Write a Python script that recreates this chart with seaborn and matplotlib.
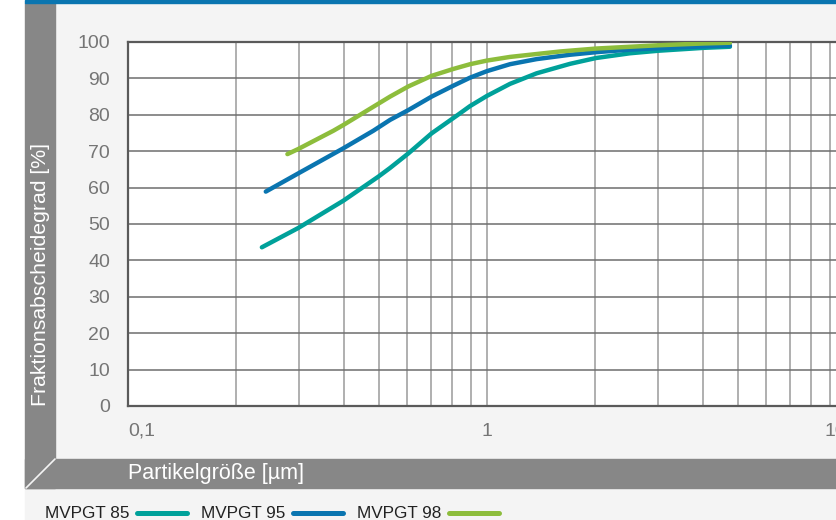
import numpy as np
import pandas as pd
import matplotlib
matplotlib.use("Agg")
import matplotlib.pyplot as plt
from matplotlib.patches import Rectangle
from matplotlib.lines import Line2D
from matplotlib.ticker import FixedLocator, NullFormatter
import seaborn as sns

# Fractional separation efficiency [%] vs. particle size [µm]
x_85 = [0.236, 0.298, 0.398, 0.498, 0.537, 0.604, 0.701, 0.83, 0.897, 1.0,
        1.159, 1.375, 1.703, 2.012, 2.5, 3.0, 4.02, 4.75]
y_85 = [43.6, 48.9, 56.4, 63.0, 65.4, 69.4, 74.9, 80.0, 82.4, 85.2,
        88.5, 91.4, 94.0, 95.6, 96.9, 97.6, 98.4, 98.7]

x_95 = [0.242, 0.298, 0.398, 0.482, 0.537, 0.604, 0.701, 0.806, 0.897, 1.0,
        1.159, 1.375, 1.703, 2.012, 2.5, 3.0, 4.02, 4.75]
y_95 = [58.9, 63.9, 70.8, 75.6, 78.6, 81.3, 85.0, 88.0, 90.2, 92.0,
        93.9, 95.3, 96.5, 97.2, 97.9, 98.3, 98.8, 99.0]

x_98 = [0.278, 0.298, 0.373, 0.398, 0.503, 0.537, 0.604, 0.701, 0.806, 0.897,
        1.0, 1.159, 1.375, 1.6, 2.012, 3.0, 4.02, 4.75]
y_98 = [69.2, 70.6, 75.6, 77.2, 83.3, 85.0, 87.8, 90.7, 92.6, 93.9,
        94.9, 95.9, 96.7, 97.4, 98.2, 99.1, 99.6, 99.8]

series_names = ["MVPGT 85", "MVPGT 95", "MVPGT 98"]
series_colors = ["#00a19a", "#0a75b0", "#8dbd3c"]

y_ticks = [0, 10, 20, 30, 40, 50, 60, 70, 80, 90, 100]
x_major = [0.1, 1, 10]
x_major_labels = ["0,1", "1", "10"]
x_label = "Partikelgröße [µm]"
y_label = "Fraktionsabscheidegrad [%]"

df = pd.concat([
    pd.DataFrame({"x": x_85, "y": y_85, "series": series_names[0]}),
    pd.DataFrame({"x": x_95, "y": y_95, "series": series_names[1]}),
    pd.DataFrame({"x": x_98, "y": y_98, "series": series_names[2]}),
], ignore_index=True)

sns.set_theme(style="white")
plt.rcParams["font.family"] = ["Liberation Sans", "DejaVu Sans"]

W, H = 837, 520
fig = plt.figure(figsize=(W / 100, H / 100), dpi=100)
fig.patch.set_facecolor("white")

def fx(px):
    return px / W

def fy(py):
    return 1 - py / H

# background panels
panel_gray = "#f4f4f4"
band_gray = "#878787"
for (x0, y1, w, h, c) in [
    (25, 520, W - 25, 32, panel_gray),
    (55, 459, W - 55, 456, panel_gray),
    (25, 488, 30, 485, band_gray),
    (25, 488, W - 25, 29, band_gray),
    (25, 3, W - 25, 3, "#0a75b0"),
]:
    fig.patches.append(Rectangle((fx(x0), fy(y1)), w / W, h / H,
                                 transform=fig.transFigure, color=c, zorder=-2))
fig.lines.append(Line2D([fx(55), fx(26)], [fy(459), fy(488)], transform=fig.transFigure,
                        color=panel_gray, lw=1.2, zorder=-1))

# plot area (extends slightly past the right edge of the canvas)
left, right, top, bottom = 128, 846, 42, 406
ax = fig.add_axes([fx(left), fy(bottom), (right - left) / W, (bottom - top) / H])
ax.set_zorder(2)
ax.set_facecolor("white")

sns.lineplot(data=df, x="x", y="y", hue="series", palette=series_colors,
             linewidth=3.2, legend=False, ax=ax, sort=False, estimator=None,
             solid_capstyle="round", solid_joinstyle="round", zorder=5)

ax.set_xscale("log")
ax.set_xlim(0.1, 10)
ax.set_ylim(0, 100)

minor = [m * d for d in (0.1, 1) for m in range(2, 10)]
ax.xaxis.set_major_locator(FixedLocator(x_major))
ax.xaxis.set_minor_locator(FixedLocator(minor))
ax.xaxis.set_minor_formatter(NullFormatter())
ax.set_xticklabels(x_major_labels)
ax.yaxis.set_major_locator(FixedLocator(y_ticks))

ax.grid(False)
for v in x_major[1:-1] + minor:
    ax.axvline(v, color="#9a9a9a", lw=1.1, zorder=1)
for v in y_ticks[1:-1]:
    ax.axhline(v, color="#6e6e6e", lw=1.1, zorder=1)

for s in ax.spines.values():
    s.set_color("#5a5a5a")
    s.set_linewidth(1.6)

ax.tick_params(axis="both", which="both", length=0, labelsize=14, labelcolor="#757575")
ax.tick_params(axis="y", pad=13)
ax.tick_params(axis="x", pad=12)
for lab, ha in zip(ax.get_xticklabels(), ["left", "center", "right"]):
    lab.set_horizontalalignment(ha)
ax.set_xlabel("")
ax.set_ylabel("")

# axis titles inside the gray bands
fig.text(fx(128), fy(474), x_label, color="white", fontsize=15.5,
         ha="left", va="center")
fig.text(fx(41), fy(406), y_label, color="white", fontsize=15.3,
         rotation=90, ha="center", va="bottom")

# legend row
legend_y = fy(513)
text_x = [45, 201, 357]
for name, color, tx in zip(series_names, series_colors, text_x):
    fig.text(fx(tx), legend_y, name, color="#222222", fontsize=12.3,
             ha="left", va="center")
    fig.lines.append(Line2D([fx(tx + 92), fx(tx + 142)], [legend_y, legend_y],
                            transform=fig.transFigure, color=color, lw=3.6,
                            solid_capstyle="round"))

fig.savefig("out.png", dpi=100, facecolor=fig.get_facecolor())
